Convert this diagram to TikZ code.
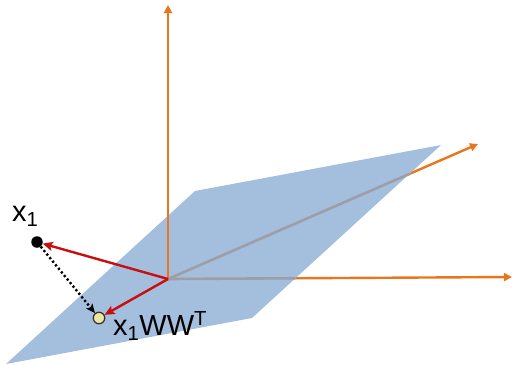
\documentclass[tikz,border=0pt]{standalone}
\usepackage{fontspec}
\setmainfont{Liberation Sans}
\usepackage{xcolor}
\definecolor{planeblue}{RGB}{164,190,221}
\definecolor{axisorange}{RGB}{232,118,28}
\definecolor{axisgrey}{RGB}{158,158,166}
\definecolor{projred}{RGB}{200,14,14}
\definecolor{dotyellow}{RGB}{238,230,160}
\usetikzlibrary{arrows.meta,positioning,intersections}

\begin{document}
\begin{tikzpicture}[x=1pt,y=-1pt,
  axisline/.style={draw=axisorange,line width=2.4pt,-{Triangle[length=8pt,width=8pt]}},
  inplane/.style={draw=axisgrey,line width=2.6pt},
  projarrow/.style={draw=projred,line width=2.4pt,-{Stealth[length=10pt,width=9pt,inset=2pt]}},
  dotarrow/.style={draw=black,line width=2.4pt,dash pattern=on 2.2pt off 2.4pt,-{Stealth[length=9pt,width=8pt,inset=2pt]}},
  pointdot/.style={circle,inner sep=0pt,minimum size=11.5pt},
  veclabel/.style={font=\fontsize{29}{31}\selectfont,inner sep=0pt,anchor=base west}
]
  \useasboundingbox (0,0) rectangle (513,364);
  \coordinate (O) at (168,279);
  \coordinate (xend) at (512,277);
  \coordinate (dend) at (478,144);
  \coordinate (zend) at (168,5);
  \coordinate (ptl) at (195,191);
  \coordinate (ptr) at (441,145);
  \coordinate (pbr) at (252,318);
  \coordinate (pbl) at (6,364);

  \draw[axisline,name path=xaxis] (O) -- (xend);
  \draw[axisline,name path=daxis] (O) -- (dend);
  \fill[planeblue] (ptl) -- (ptr) -- (pbr) -- (pbl) -- cycle;
  \path[name path=rightedge] (ptr) -- (pbr);
  \path[name intersections={of=rightedge and xaxis,by=xcut}];
  \path[name intersections={of=rightedge and daxis,by=dcut}];
  \draw[inplane] (O) -- (xcut);
  \draw[inplane] (O) -- (dcut);
  \draw[axisline] (O) -- (zend);

  \node[pointdot,fill=black] (xone) at (37,242) {};
  \node[pointdot,fill=dotyellow,draw=black!80,line width=1.3pt] (xproj) at (99,318) {};
  \draw[projarrow] (O) -- (xone);
  \draw[projarrow] (O) -- (xproj);
  \draw[dotarrow] (xone) -- (xproj);

  \node[veclabel] (xonelabel) at (12,221) {x\textsubscript{1}};
  \node[veclabel] (xprojlabel) at (113,335) {x\textsubscript{1}WW\textsuperscript{T}};
\end{tikzpicture}
\end{document}
